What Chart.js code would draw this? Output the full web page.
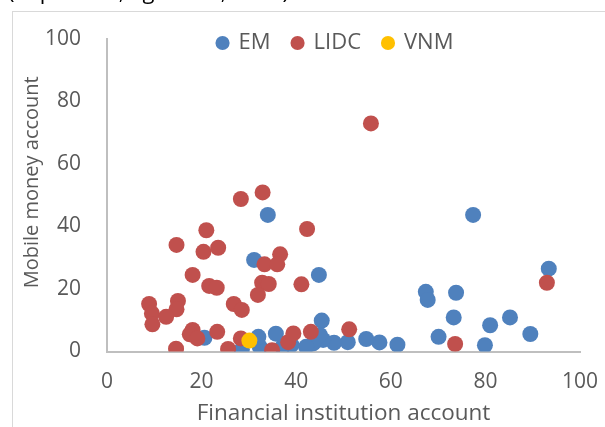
<!DOCTYPE html>
<html><head><meta charset="utf-8">
<script src="https://cdn.jsdelivr.net/npm/chart.js@4.4.0/dist/chart.umd.min.js"></script>
<style>
html,body{margin:0;padding:0;background:#fff;overflow:hidden}
#wrap{position:relative;width:605px;height:427px}
#note{position:absolute;left:8px;top:-25px;font:22px/30px 'Open Sans',sans-serif;color:#000;white-space:nowrap;z-index:2}
canvas{position:absolute;left:0;top:0}
</style></head><body>
<div id="wrap"><canvas id="c" width="605" height="427"></canvas><div id="note">(In percent, ages 15+, 2017)</div></div>
<script>
// ---- data ----
const seriesNames = ['EM', 'LIDC', 'VNM'];
const emX = [34.0, 77.4, 93.4, 31.1, 44.8, 67.4, 67.8, 73.8, 73.3, 85.2, 45.4, 81.0, 89.5, 70.1, 79.9, 61.4, 57.6, 54.8, 50.9, 48.0, 45.7, 45.0, 43.6, 42.1, 39.0, 37.1, 35.7, 32.3, 32.0, 28.5, 20.6];
const emY = [43.7, 43.7, 26.5, 29.3, 24.5, 19.1, 16.5, 18.8, 10.9, 10.9, 9.9, 8.4, 5.6, 4.7, 2.0, 2.2, 2.9, 4.0, 3.0, 2.8, 3.7, 5.3, 2.6, 1.5, 2.1, 1.5, 5.7, 1.5, 4.7, 0.7, 4.4];
const lidcX = [55.8, 28.3, 32.9, 21.0, 42.3, 14.7, 20.4, 23.5, 36.6, 33.3, 36.0, 18.1, 21.6, 23.2, 32.8, 34.2, 41.1, 93.0, 31.9, 26.8, 28.5, 8.9, 15.0, 14.7, 9.5, 12.5, 9.6, 18.1, 17.5, 19.1, 23.3, 28.3, 14.6, 25.6, 34.9, 38.3, 39.4, 43.1, 51.2, 73.6];
const lidcY = [73.0, 48.8, 50.9, 38.8, 39.2, 34.1, 31.9, 33.2, 31.1, 27.9, 27.9, 24.5, 21.0, 20.4, 22.0, 21.6, 21.5, 22.0, 18.1, 15.2, 13.3, 15.2, 16.2, 13.5, 12.2, 11.1, 8.7, 6.9, 5.5, 4.2, 6.3, 4.2, 0.9, 0.8, 0.4, 3.0, 5.8, 6.3, 7.1, 2.4];
const vnmX = [30.1];
const vnmY = [3.5];
const axisTicks = [0, 20, 40, 60, 80, 100];
const xTitle = 'Financial institution account';
const yTitle = '     Mobile money account';

const toPts = (xs, ys) => xs.map((x, i) => ({x: x, y: ys[i]}));

const FONT = "'Open Sans', sans-serif";
const GREY = '#595959';
const LEG_CENTER_Y = 43;
const LEG_PAD = 22;
const LEG_FS = 22;

const framePlugin = {
  id: 'frame',
  beforeDraw(chart) {
    const c = chart.ctx;
    c.save();
    c.strokeStyle = '#d9d9d9';
    c.lineWidth = 1;
    c.strokeRect(12.5, 11.5, 800, 800);
    c.restore();
  }
};
const legendPlace = {
  id: 'legendPlace',
  afterLayout(chart) {
    const lg = chart.legend;
    const ca = chart.chartArea;
    lg.top = LEG_CENTER_Y - LEG_PAD - LEG_FS / 2;
    lg.height = 2 * LEG_PAD + LEG_FS + 10;
    lg.bottom = lg.top + lg.height;
    lg.left = ca.left - 8;
    lg.right = ca.right - 8;
    lg.width = lg.right - lg.left;
  }
};

new Chart(document.getElementById('c'), {
  type: 'scatter',
  data: {
    datasets: [
      {label: seriesNames[0], data: toPts(emX, emY), backgroundColor: '#4F81BD', borderColor: '#4F81BD', order: 3},
      {label: seriesNames[1], data: toPts(lidcX, lidcY), backgroundColor: '#C0504D', borderColor: '#C0504D', order: 2},
      {label: seriesNames[2], data: toPts(vnmX, vnmY), backgroundColor: '#FFC000', borderColor: '#FFC000', order: 1}
    ]
  },
  options: {
    responsive: false,
    animation: false,
    events: [],
    elements: {point: {radius: 8, borderWidth: 0, hoverRadius: 8}},
    layout: {padding: {left: 0, right: 25, top: 38, bottom: 0}},
    plugins: {
      tooltip: {enabled: false},
      legend: {
        position: 'top',
        reverse: true,
        maxHeight: 1,
        labels: {
          usePointStyle: true, pointStyle: 'circle', boxWidth: 10, boxHeight: 10,
          padding: LEG_PAD, color: GREY, font: {family: FONT, size: LEG_FS}
        }
      }
    },
    scales: {
      x: {
        type: 'linear', min: 0, max: 100,
        afterBuildTicks: s => { s.ticks = axisTicks.map(v => ({value: v})); },
        afterFit: s => { s.height = 75.5; s.paddingLeft = 0; s.paddingRight = 0; },
        grid: {display: false, drawTicks: false},
        border: {display: true, color: '#BFBFBF', width: 2},
        ticks: {padding: 18, color: GREY, font: {family: FONT, size: 21}},
        title: {display: true, text: xTitle, color: GREY, font: {family: FONT, size: 22.5}, padding: {top: 0, bottom: 0}}
      },
      y: {
        type: 'linear', min: 0, max: 100,
        afterBuildTicks: s => { s.ticks = axisTicks.map(v => ({value: v})); },
        afterFit: s => { s.width = 107; s.paddingTop = 0; s.paddingBottom = 0; },
        grid: {display: false, drawTicks: false},
        border: {display: true, color: '#BFBFBF', width: 2},
        ticks: {padding: 26, color: GREY, font: {family: FONT, size: 21}},
        title: {display: true, text: yTitle, color: GREY, font: {family: FONT, size: 20}, padding: {top: 20, bottom: 0}}
      }
    }
  },
  plugins: [framePlugin, legendPlace]
});
</script>
</body></html>
